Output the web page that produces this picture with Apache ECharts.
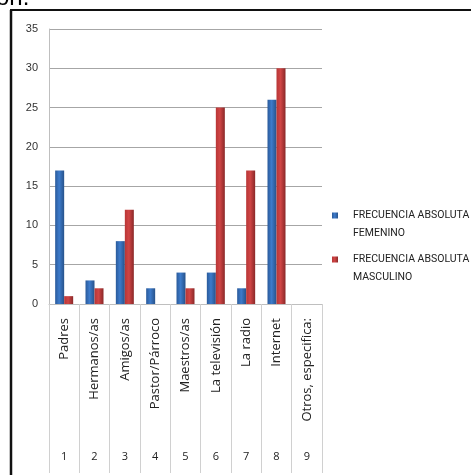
<!DOCTYPE html>
<html><head><meta charset="utf-8">
<script src="https://cdn.jsdelivr.net/npm/echarts@6/dist/echarts.min.js"></script>
<style>html,body{margin:0;padding:0;background:#fff;}#c{width:471px;height:475px;}</style>
</head><body><div id="c"></div>
<script>
const categories = ['Padres','Hermanos/as','Amigos/as','Pastor/Párroco','Maestros/as','La televisión','La radio','Internet','Otros, especifica:'];
const categoryNumbers = ['1','2','3','4','5','6','7','8','9'];
const femenino = [17,3,8,2,4,4,2,26,null];
const masculino = [1,2,12,null,2,25,17,30,null];
const seriesNames = ['FRECUENCIA ABSOLUTA\nFEMENINO','FRECUENCIA ABSOLUTA\nMASCULINO'];
const yTicks = {min:0,max:35,interval:5};

const chart = echarts.init(document.getElementById('c'), null, {renderer:'canvas'});
const legFont = 'Roboto, Liberation Sans, sans-serif';
function grad(a,b,c){return new echarts.graphic.LinearGradient(0,0,1,0,[{offset:0,color:a},{offset:0.45,color:b},{offset:1,color:c}]);}
function legendFmt(name){return '{a| }\n' + name.split('\n').map(s=>'{a|'+s+'}').join('\n');}
const legText = {fontSize:10.5,color:'#222',fontFamily:legFont,rich:{a:{fontSize:10.5,fontFamily:legFont,color:'#222',lineHeight:18,padding:[0,0,0,10]}}};
chart.setOption({
  animation:false,
  backgroundColor:'#fff',
  grid:{left:49,right:149,top:29,bottom:171,containLabel:false},
  xAxis:[{
    type:'category',data:categories,boundaryGap:true,
    axisLine:{lineStyle:{color:'#BFBFBF',width:1}},
    axisTick:{show:true,length:169,lineStyle:{color:'#D0D0D0'}},
    axisLabel:{rotate:90,margin:14,fontSize:13,color:'#222',fontFamily:'Open Sans, sans-serif',interval:0}
  },{
    type:'category',data:categoryNumbers,position:'bottom',gridIndex:0,
    axisLine:{show:false},axisTick:{show:false},
    axisLabel:{margin:147,fontSize:11,color:'#222',fontFamily:'Open Sans, sans-serif',interval:0}
  }],
  yAxis:{type:'value',min:yTicks.min,max:yTicks.max,interval:yTicks.interval,
    axisLine:{show:true,lineStyle:{color:'#BFBFBF'}},axisTick:{show:false},
    axisLabel:{fontSize:11,color:'#333',margin:11,fontFamily:'Liberation Sans, sans-serif'},
    splitLine:{lineStyle:{color:'#A6A6A6',width:1}}},
  legend:[{
    data:[seriesNames[0]],orient:'vertical',left:332,top:192,padding:0,itemWidth:6,itemHeight:6,icon:'rect',
    formatter:legendFmt,textStyle:legText,itemGap:0
  },{
    data:[seriesNames[1]],orient:'vertical',left:332,top:236,padding:0,itemWidth:6,itemHeight:6,icon:'rect',
    formatter:legendFmt,textStyle:legText,itemGap:0
  }],
  graphic:[
    {type:'text',left:-4,top:-14,style:{text:'ón.',font:'24px Liberation Sans, sans-serif',fill:'#000'}},
    {type:'line',shape:{x1:10,y1:10,x2:471,y2:10},style:{stroke:'#111',lineWidth:2}},
    {type:'line',shape:{x1:11,y1:10,x2:11,y2:475},style:{stroke:'#111',lineWidth:2.5}}
  ],
  series:[{
    name:seriesNames[0],type:'bar',data:femenino,barWidth:9,barGap:'0%',
    itemStyle:{color:grad('#2A5A9A','#3D7BCB','#27528A')}
  },{
    name:seriesNames[1],type:'bar',data:masculino,barWidth:9,barGap:'0%',
    itemStyle:{color:grad('#B83636','#D04545','#8A2828')}
  }]
});
</script></body></html>
